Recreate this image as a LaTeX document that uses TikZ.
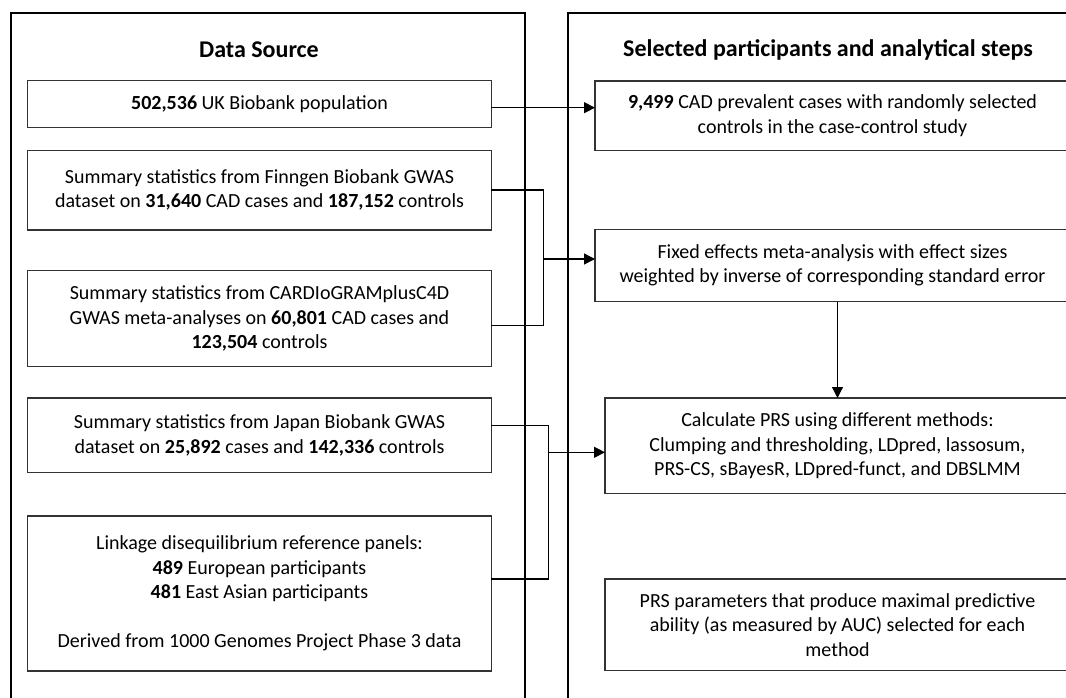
\documentclass[tikz,border=0pt]{standalone}
\usepackage{fontspec}
\setmainfont{Carlito}
\usetikzlibrary{positioning, arrows.meta}

\tikzset{
    box/.style={draw=black!80, line width=1.1pt, align=center, inner sep=0pt, outer sep=0pt,
        font=\fontsize{20}{24.4}\selectfont},
    srcbox/.style={box, minimum width=463.6pt},
    stepbox/.style={box, minimum width=475pt},
    head/.style={font=\fontsize{24}{29}\selectfont\bfseries},
    panel/.style={draw, line width=2pt},
    link/.style={line width=1.2pt},
    arr/.style={link, -{Triangle[length=11pt, width=11pt]}}
}

\begin{document}
\begin{tikzpicture}[x=1pt, y=-1pt]
    \useasboundingbox (0,0) rectangle (1066,698);
    \clip (0,0) rectangle (1066,698);

    % the two panels
    \draw[panel] (11,13.3) rectangle (525.3,760);
    \draw[panel] (568,13.3) rectangle (1100,760);

    \node[head] (srchead) at (259,50) {Data Source};
    \node[head] (stephead) at (828,50) {Selected participants and analytical steps};

    % data sources
    \node[srcbox, minimum height=46.7pt] (ukb) at (259.5,104.3) {\textbf{502,536} UK Biobank population};
    \node[srcbox, minimum height=79.7pt, below=22.6pt of ukb] (finn)
        {Summary statistics from Finngen Biobank GWAS\\dataset on \textbf{31,640} CAD cases and \textbf{187,152} controls};
    \node[srcbox, minimum height=96pt, below=40.7pt of finn] (cardio)
        {Summary statistics from CARDIoGRAMplusC4D\\GWAS meta-analyses on \textbf{60,801} CAD cases and\\\textbf{123,504} controls};
    \node[srcbox, minimum height=74.7pt, below=31.3pt of cardio] (bbj)
        {Summary statistics from Japan Biobank GWAS\\dataset on \textbf{25,892} cases and \textbf{142,336} controls};
    \node[srcbox, minimum height=155pt, below=43.3pt of bbj] (ldref)
        {Linkage disequilibrium reference panels:\\\textbf{489} European participants\\\textbf{481} East Asian participants\\[24.4pt]Derived from 1000 Genomes Project Phase 3 data};

    % analytical steps
    \node[stepbox, minimum height=69.7pt] (cases) at (832.5,115.85)
        {\textbf{9,499} CAD prevalent cases with randomly selected\\controls in the case-control study};
    \node[stepbox, minimum height=72.4pt, below=78.6pt of cases] (meta)
        {Fixed effects meta-analysis with effect sizes\\weighted by inverse of corresponding standard error};
    \node[box, minimum width=465pt, minimum height=95.7pt, below=96.3pt of meta, xshift=5pt] (prs)
        {Calculate PRS using different methods:\\Clumping and thresholding, LDpred, lassosum,\\PRS-CS, sBayesR, LDpred-funct, and DBSLMM};
    \node[box, minimum width=465pt, minimum height=91.7pt, below=85.3pt of prs] (best)
        {PRS parameters that produce maximal predictive\\ability (as measured by AUC) selected for each\\method};

    \coordinate (j1) at (543.3,259);
    \coordinate (j2) at (548.3,452.3);

    \draw[arr] ([yshift=-3.4pt]ukb.east) -- ([yshift=-3.4pt]ukb.east -| cases.west);
    \draw[link] (finn.east) -| (j1);
    \draw[link] ([yshift=-7pt]cardio.east) -| (j1);
    \draw[arr] (j1) -- (j1 -| meta.west);
    \draw[link] ([yshift=9.7pt]bbj.east) -| (j2);
    \draw[link] ([yshift=14.5pt]ldref.east) -| (j2);
    \draw[arr] (j2) -- (j2 -| prs.west);
    \draw[arr] (meta.south -| prs.north) -- (prs.north);
\end{tikzpicture}
\end{document}
